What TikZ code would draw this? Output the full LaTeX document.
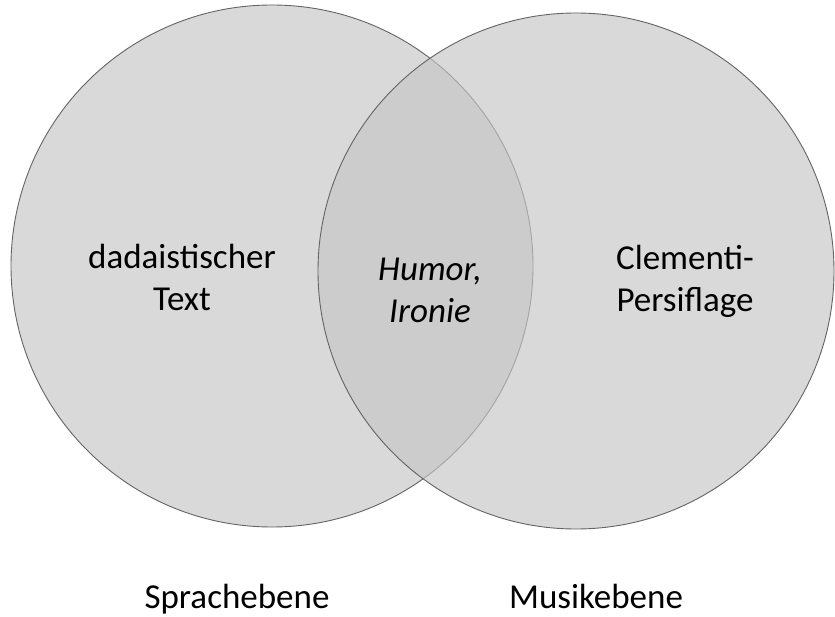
\documentclass[tikz,border=0pt]{standalone}
\usepackage{fontspec}
\setmainfont{Carlito}
\definecolor{circfill}{RGB}{197,197,197}
\definecolor{circline}{RGB}{100,100,100}
\begin{document}
\begin{tikzpicture}[x=1pt,y=1pt,
  venn/.style={circle, draw=circline, line width=0.9pt, fill=circfill, fill opacity=0.66, draw opacity=1, inner sep=0pt},
  lbl/.style={align=center, font=\fontsize{35}{42}\selectfont, text=black, inner sep=0pt}]
\useasboundingbox (0,0) rectangle (835,616);
\node[venn, minimum size=522pt] (L) at (272,350) {};
\node[venn, minimum size=516pt] (R) at (576,345) {};
\node[lbl] (lt) at (182,339) {dadaistischer\\Text};
\node[lbl] (mt) at (430,326) {\itshape Humor,\\\itshape Ironie};
\node[lbl] (rt) at (685,335) {Clementi-\\Persiflage};
\node[lbl, anchor=base] (ls) at (237,8) {Sprachebene};
\node[lbl, anchor=base] (rs) at (596,8) {Musikebene};
\end{tikzpicture}
\end{document}
